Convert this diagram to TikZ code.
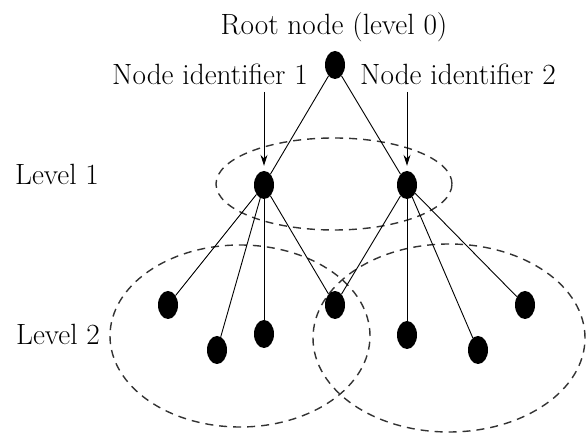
\documentclass[tikz,border=0pt]{standalone}
\usepackage{tikz}
\usetikzlibrary{positioning, shapes.geometric, arrows.meta}
\tikzset{
    on grid,
    vertex/.style={ellipse, fill=black, minimum width=20pt, minimum height=28pt, inner sep=0pt},
    caption/.style={font=\fontsize{29.3}{34}\selectfont, anchor=base},
    group/.style={dash pattern=on 8pt off 6pt, line width=1.4pt, black!80},
    pointer/.style={-{Stealth[length=11pt, width=7pt]}, line width=0.9pt, shorten >=5pt, shorten <=3pt},
    link/.style={line width=0.9pt},
}

\begin{document}
\begin{tikzpicture}[x=1pt, y=1pt]
    \useasboundingbox (0,0) rectangle (588,435);

    % groups of nodes
    \draw[group] (334,251) ellipse [x radius=118, y radius=46];
    \draw[group] (240,99) ellipse [x radius=130, y radius=91];
    \draw[group] (449,97) ellipse [x radius=136, y radius=94];

    % tree
    \node[vertex] (root) at (335,370) {};
    \node[vertex, below left=120pt and 71pt of root] (l1a) {};
    \node[vertex, below right=120pt and 72pt of root] (l1b) {};
    \node[vertex, below left=120pt and 96pt of l1a] (a1) {};
    \node[vertex, below left=165pt and 47pt of l1a] (a2) {};
    \node[vertex, below=149pt of l1a] (a3) {};
    \node[vertex, below right=120pt and 71pt of l1a] (mid) {};
    \node[vertex, below=150pt of l1b] (b2) {};
    \node[vertex, below right=165pt and 71pt of l1b] (b3) {};
    \node[vertex, below right=120pt and 118pt of l1b] (b4) {};

    % labels
    \node[caption] (rootlbl) at (334,400) {Root node (level 0)};
    \node[caption] (id1) at (210,350) {Node identifier 1};
    \node[caption] (id2) at (458,350) {Node identifier 2};
    \node[caption] (lev1) at (57,250) {Level 1};
    \node[caption] (lev2) at (58,90) {Level 2};

    \path[link]
        (root) edge (l1a)
            edge (l1b)
        (l1a) edge (a1)
            edge (a2)
            edge (a3)
            edge (mid)
        (l1b) edge (mid)
            edge (b2)
            edge (b3)
            edge (b4);

    \draw[pointer] (id1.south -| l1a) -- (l1a);
    \draw[pointer] (id2.south -| l1b) -- (l1b);
\end{tikzpicture}
\end{document}
